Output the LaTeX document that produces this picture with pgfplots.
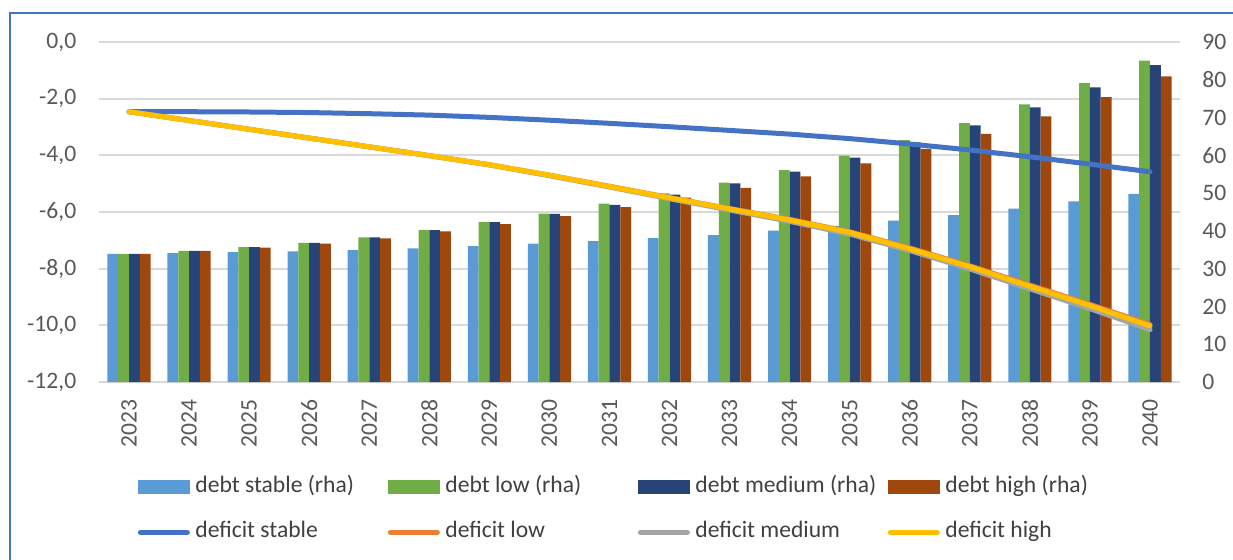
\documentclass[border=0pt]{standalone}
\usepackage{fontspec}
\setmainfont{Carlito}
\usepackage{pgfplots}
\usepackage{pgfplotstable}
\pgfplotsset{compat=1.18}

\definecolor{dstable}{HTML}{4472C4}
\definecolor{dlow}{HTML}{ED7D31}
\definecolor{dmed}{HTML}{A5A5A5}
\definecolor{dhigh}{HTML}{FFC000}
\definecolor{bstable}{HTML}{5B9BD5}
\definecolor{blow}{HTML}{70AD47}
\definecolor{bmed}{HTML}{264478}
\definecolor{bhigh}{HTML}{9E480E}
\definecolor{gridc}{HTML}{D9D9D9}
\definecolor{tickc}{HTML}{595959}
\definecolor{legc}{HTML}{404040}

\pgfplotsset{
  barlegend/.style={legend image code/.code={\fill[##1] (0pt,-3.5pt) rectangle (26pt,3.5pt);}},
  linelegend/.style={legend image code/.code={\draw[##1, line cap=round] (1.25pt,0pt) -- (24.75pt,0pt);}},
  chartbox/.style={
    scale only axis, width=540.5pt, height=170pt,
    at={(49.5pt,-191pt)}, anchor=south west,
    xmin=-0.5, xmax=17.5,
    axis line style={draw=none},
    major tick length=0pt,
    tick label style={font=\fontsize{11.8}{13}\selectfont, text=tickc,
      /pgf/number format/assume math mode=true},
  },
}

% debt, % of GDP (right axis)
\pgfplotstableread{
x year stable low medium high
0  2023 33.9 33.9 33.9 33.9
1  2024 34.1 34.7 34.7 34.7
2  2025 34.4 35.7 35.7 35.6
3  2026 34.6 36.8 36.8 36.6
4  2027 34.9 38.3 38.3 38.0
5  2028 35.4 40.2 40.2 39.9
6  2029 36.0 42.3 42.3 41.8
7  2030 36.6 44.6 44.5 43.9
8  2031 37.3 47.2 46.9 46.3
9  2032 38.1 49.9 49.6 48.8
10 2033 38.9 52.8 52.6 51.4
11 2034 40.1 56.1 55.7 54.4
12 2035 41.3 59.9 59.4 57.9
13 2036 42.7 64.0 63.4 61.7
14 2037 44.2 68.5 67.9 65.7
15 2038 45.9 73.5 72.7 70.3
16 2039 47.8 79.1 78.0 75.4
17 2040 49.8 85.1 83.9 80.9
}\debt

% deficit (left axis)
\pgfplotstableread{
x stable low medium high
0  -2.46 -2.46 -2.46 -2.46
1  -2.46 -2.77 -2.77 -2.77
2  -2.47 -3.08 -3.08 -3.08
3  -2.49 -3.39 -3.39 -3.39
4  -2.53 -3.70 -3.70 -3.70
5  -2.58 -4.01 -4.01 -4.01
6  -2.66 -4.33 -4.34 -4.33
7  -2.76 -4.70 -4.72 -4.70
8  -2.87 -5.09 -5.12 -5.10
9  -2.99 -5.49 -5.53 -5.50
10 -3.12 -5.88 -5.93 -5.89
11 -3.25 -6.26 -6.33 -6.28
12 -3.41 -6.70 -6.78 -6.72
13 -3.60 -7.27 -7.36 -7.30
14 -3.81 -7.90 -8.01 -7.93
15 -4.05 -8.58 -8.71 -8.62
16 -4.31 -9.26 -9.41 -9.30
17 -4.58 -9.97 -10.15 -10.02
}\deficit

\begin{document}
\begin{tikzpicture}
\path[use as bounding box] (0pt,0pt) rectangle (616.5pt,-279.5pt);
\draw[dstable, line width=1pt] (5pt,-320pt) -- (5pt,-6.3pt) -- (700pt,-6.3pt);

\begin{axis}[
  chartbox,
  ybar=0pt, bar width=5.4pt,
  ymin=0, ymax=90,
  axis y line*=right, axis x line*=bottom,
  ytick={0,10,...,90},
  yticklabel style={anchor=west, inner sep=0pt},
  yticklabel shift=11pt,
  xtick={0,...,17},
  xticklabels={2023,2024,2025,2026,2027,2028,2029,2030,2031,2032,2033,2034,2035,2036,2037,2038,2039,2040},
  xticklabel style={rotate=90, anchor=east, inner sep=0pt},
  xticklabel shift=8.5pt,
  extra y ticks={0,15,30,45,60,75,90},
  extra y tick labels={},
  extra y tick style={grid=major, major grid style={gridc, line width=0.9pt}},
]
  \addplot[fill=bstable, draw=none] table[x=x, y=stable] {\debt};
  \addplot[fill=blow, draw=none] table[x=x, y=low] {\debt};
  \addplot[fill=bmed, draw=none] table[x=x, y=medium] {\debt};
  \addplot[fill=bhigh, draw=none] table[x=x, y=high] {\debt};
\end{axis}

\begin{axis}[
  chartbox,
  ymin=-12, ymax=0,
  axis y line*=left, axis x line=none,
  ytick={-12,-10,...,0},
  yticklabel style={anchor=east, inner sep=0pt,
    /pgf/number format/.cd, fixed, fixed zerofill, precision=1, use comma, assume math mode=true},
  yticklabel shift=11.2pt,
  legend columns=4,
  legend cell align=left,
  legend style={
    at={(axis description cs:0.036,-0.276)}, anchor=north west,
    draw=none, fill=none, inner sep=0pt, outer sep=0pt,
    row sep=11pt, column sep=0pt,
    font=\fontsize{11.8}{13}\selectfont, text=legc,
    nodes={inner xsep=2.75pt, inner ysep=0pt, text height=8.5pt, text depth=3pt},
  },
  linelegend,
]
  \addlegendimage{fill=bstable, draw=none, barlegend}
  \addlegendentry{\makebox[93.5pt][l]{debt stable (rha)}}
  \addlegendimage{fill=blow, draw=none, barlegend}
  \addlegendentry{\makebox[93.5pt][l]{debt low (rha)}}
  \addlegendimage{fill=bmed, draw=none, barlegend}
  \addlegendentry{\makebox[93.5pt][l]{debt medium (rha)}}
  \addlegendimage{fill=bhigh, draw=none, barlegend}
  \addlegendentry{\makebox[93.5pt][l]{debt high (rha)}}

  \addplot[dstable, line width=2.5pt, line cap=round, line join=round] table[x=x, y=stable] {\deficit};
  \addlegendentry{\makebox[93.5pt][l]{deficit stable}}
  \addplot[dlow, line width=2.5pt, line cap=round, line join=round] table[x=x, y=low] {\deficit};
  \addlegendentry{\makebox[93.5pt][l]{deficit low}}
  \addplot[dmed, line width=2.5pt, line cap=round, line join=round] table[x=x, y=medium] {\deficit};
  \addlegendentry{\makebox[93.5pt][l]{deficit medium}}
  \addplot[dhigh, line width=2.5pt, line cap=round, line join=round] table[x=x, y=high] {\deficit};
  \addlegendentry{\makebox[93.5pt][l]{deficit high}}
\end{axis}
\end{tikzpicture}
\end{document}
